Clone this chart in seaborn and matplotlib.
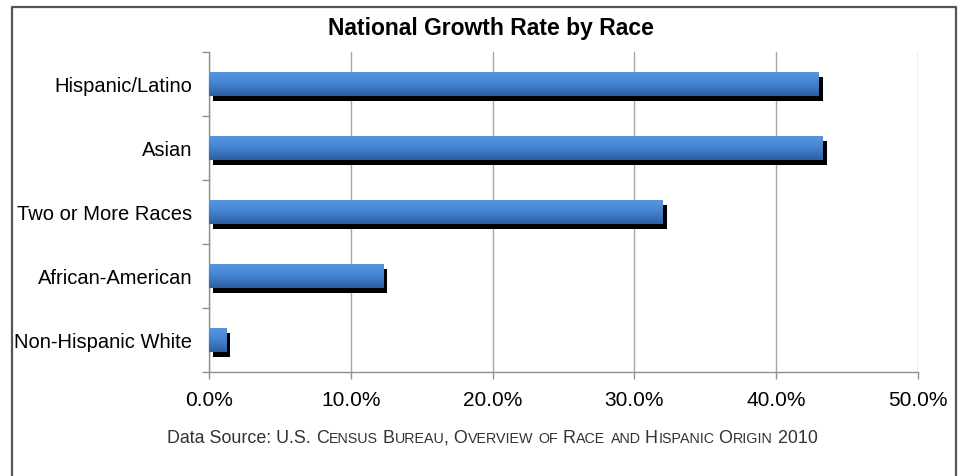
import numpy as np
import matplotlib
matplotlib.use('Agg')
import matplotlib.pyplot as plt
import matplotlib.transforms as mtransforms
from matplotlib.colors import LinearSegmentedColormap
import seaborn as sns

# data
races = ['Hispanic/Latino', 'Asian', 'Two or More Races', 'African-American', 'Non-Hispanic White']
growth = [43.0, 43.3, 32.0, 12.3, 1.2]
x_ticks = [0, 10, 20, 30, 40, 50]

sns.set_theme(style='white')
plt.rcParams['font.family'] = ['Liberation Sans', 'DejaVu Sans']

fig = plt.figure(figsize=(9.61, 4.77), dpi=100)
ax = fig.add_axes([209 / 961, 1 - 373 / 477, (918 - 209) / 961, (373 - 53) / 477])

# shadow bars first, then the real bars on top
sns.barplot(x=growth, y=races, orient='h', color='black', width=0.39, ax=ax,
            saturation=1, zorder=2)
shadow = list(ax.patches)
off = mtransforms.ScaledTranslation(0.04, -0.05, fig.dpi_scale_trans)
for p in shadow:
    p.set_transform(ax.transData + off)
    p.set_linewidth(0)

sns.barplot(x=growth, y=races, orient='h', color='#3d78c4', width=0.39, ax=ax,
            saturation=1, zorder=3)
bars = [p for p in ax.patches if p not in shadow]

# vertical gradient inside each bar
cmap = LinearSegmentedColormap.from_list('bar', ['#5a98e0', '#4682cf', '#2c5fa2'])
grad = np.linspace(0, 1, 64).reshape(-1, 1)
for p in bars:
    p.set_linewidth(0)
    x0, y0 = p.get_x(), p.get_y()
    w, h = p.get_width(), p.get_height()
    im = ax.imshow(grad, extent=(x0, x0 + w, y0 + h, y0), origin='upper',
                   aspect='auto', cmap=cmap, zorder=4)
    im.set_clip_path(p)

ax.set_xlim(0, 50)
ax.set_ylim(4.5, -0.5)
ax.set_xticks(x_ticks)
ax.set_xticklabels([f'{t:.1f}%' for t in x_ticks])
ax.set_yticks(np.arange(-0.5, 5, 1), minor=True)
ax.tick_params(axis='y', which='major', length=0, labelsize=14.5, pad=12, colors='black')
ax.tick_params(axis='y', which='minor', length=5, color='#909090', width=1, left=True)
ax.tick_params(axis='x', length=5, color='#909090', width=1, bottom=True,
               labelsize=15, pad=8, colors='black')
ax.grid(axis='x', color='#a6a6a6', lw=1, zorder=0)
ax.set_axisbelow(True)
ax.set_xlabel('')
ax.set_ylabel('')
for s in ['top', 'right']:
    ax.spines[s].set_visible(False)
for s in ['left', 'bottom']:
    ax.spines[s].set_color('#909090')
    ax.spines[s].set_linewidth(1)

# outer frame (open at bottom)
fig.add_artist(plt.Line2D([12 / 961, 12 / 961, 956 / 961, 956 / 961],
                          [0, 1 - 8 / 477, 1 - 8 / 477, 0],
                          transform=fig.transFigure, color='#555555', lw=1.6))

fig.text(491 / 961, 1 - 29 / 477, 'National Growth Rate by Race', ha='center', va='center',
         fontsize=16.5, fontweight='bold', color='black')

# caption with small caps
fig.canvas.draw()
renderer = fig.canvas.get_renderer()
plain = 'Data Source: U.S. '
styled = 'Census Bureau, Overview of Race and Hispanic Origin 2010'
big, small = 12.9, 10.3
segs = [(plain, big)]
for ch in styled:
    size = small if ch.islower() else big
    if len(segs) > 1 and segs[-1][1] == size:
        segs[-1] = (segs[-1][0] + ch.upper(), size)
    else:
        segs.append((ch.upper(), size))
x = 167 / 961
y = 1 - 443 / 477
for txt, size in segs:
    t = fig.text(x, y, txt, fontsize=size, ha='left', va='baseline', color='#333333')
    bb = t.get_window_extent(renderer)
    x = bb.x1 / fig.bbox.width

fig.savefig('out.png', dpi=100)
